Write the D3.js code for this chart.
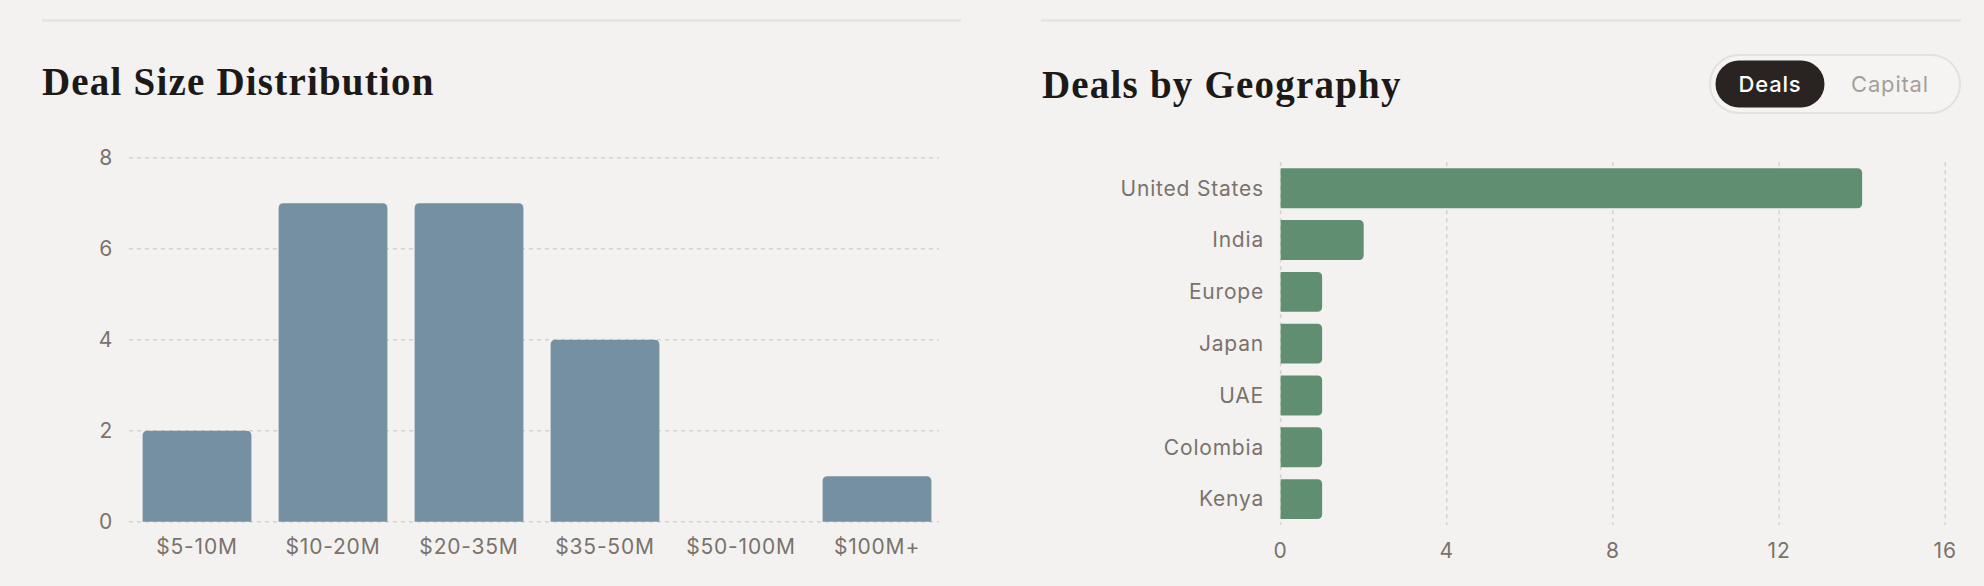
<!DOCTYPE html>
<html>
<head>
<meta charset="utf-8">
<script src="https://cdn.jsdelivr.net/npm/d3@7"></script>
<style>
  html, body { margin: 0; padding: 0; background: #f3f2f0; }
  svg { display: block; }
  .title { font-family: "Liberation Serif", serif; font-weight: bold; fill: #1c1917; letter-spacing: 1.2px; }
  .lbl { font-family: Inter, "Noto Sans", sans-serif; fill: #7a726c; letter-spacing: 0.8px; }
</style>
</head>
<body>
<svg id="chart" width="1984" height="586"></svg>
<script>
// Deal size distribution
const sizeBuckets = ['$5-10M', '$10-20M', '$20-35M', '$35-50M', '$50-100M', '$100M+'];
const sizeCounts = [2, 7, 7, 4, 0, 1];
const sizeTicks = [0, 2, 4, 6, 8];

// Deals by geography
const geoNames = ['United States', 'India', 'Europe', 'Japan', 'UAE', 'Colombia', 'Kenya'];
const geoDeals = [14, 2, 1, 1, 1, 1, 1];
const geoTicks = [0, 4, 8, 12, 16];

const toggleLabels = ['Deals', 'Capital'];

const svg = d3.select('#chart');

// rounded-top bar path (vertical bars)
function topRounded(x, y, w, h, r) {
  if (h <= 0) return '';
  r = Math.min(r, h, w / 2);
  return `M${x},${y + h}V${y + r}Q${x},${y} ${x + r},${y}H${x + w - r}Q${x + w},${y} ${x + w},${y + r}V${y + h}Z`;
}
// rounded-right bar path (horizontal bars)
function rightRounded(x, y, w, h, r) {
  if (w <= 0) return '';
  r = Math.min(r, w, h / 2);
  return `M${x},${y}H${x + w - r}Q${x + w},${y} ${x + w},${y + r}V${y + h - r}Q${x + w},${y + h} ${x + w - r},${y + h}H${x}Z`;
}

/* ---------- left panel ---------- */
const left = svg.append('g');

left.append('line')
  .attr('x1', 42).attr('x2', 961).attr('y1', 20.5).attr('y2', 20.5)
  .attr('stroke', '#e5e3e0').attr('stroke-width', 2.5);

left.append('text')
  .attr('class', 'title')
  .attr('x', 42).attr('y', 95)
  .style('font-size', '39px')
  .text('Deal Size Distribution');

const x1 = d3.scaleBand()
  .domain(sizeBuckets)
  .range([129, 945])
  .paddingInner(0.2)
  .paddingOuter(0.1);

const y1 = d3.scaleLinear()
  .domain([0, 8])
  .range([521.7, 157.7]);

// grid
left.append('g')
  .selectAll('line')
  .data(sizeTicks)
  .enter()
  .append('line')
  .attr('x1', 129).attr('x2', 939)
  .attr('y1', d => y1(d)).attr('y2', d => y1(d))
  .attr('stroke', '#d5d2ce')
  .attr('stroke-width', 1.5)
  .attr('stroke-dasharray', '4 4');

// y tick labels
left.append('g')
  .selectAll('text')
  .data(sizeTicks)
  .enter()
  .append('text')
  .attr('class', 'lbl')
  .attr('x', 113)
  .attr('y', d => y1(d))
  .attr('dy', '0.35em')
  .attr('text-anchor', 'end')
  .style('font-size', '21px')
  .text(d => d);

// bars
left.append('g')
  .selectAll('path')
  .data(sizeBuckets.map((b, i) => ({ b, v: sizeCounts[i] })))
  .enter()
  .append('path')
  .attr('fill', '#7690a3')
  .attr('d', d => topRounded(x1(d.b), y1(d.v), x1.bandwidth(), y1(0) - y1(d.v), 5));

// x labels
left.append('g')
  .selectAll('text')
  .data(sizeBuckets)
  .enter()
  .append('text')
  .attr('class', 'lbl')
  .attr('x', d => x1(d) + x1.bandwidth() / 2)
  .attr('y', 554)
  .attr('text-anchor', 'middle')
  .style('font-size', '21px')
  .text(d => d);

/* ---------- right panel ---------- */
const right = svg.append('g');

right.append('line')
  .attr('x1', 1041).attr('x2', 1961).attr('y1', 20.5).attr('y2', 20.5)
  .attr('stroke', '#e5e3e0').attr('stroke-width', 2.5);

right.append('text')
  .attr('class', 'title')
  .attr('x', 1042).attr('y', 97.5)
  .style('font-size', '39px')
  .text('Deals by Geography');

// toggle
right.append('rect')
  .attr('x', 1710).attr('y', 55).attr('width', 250).attr('height', 58)
  .attr('rx', 29)
  .attr('fill', '#f5f4f2')
  .attr('stroke', '#e3e1de').attr('stroke-width', 2);
right.append('rect')
  .attr('x', 1715.5).attr('y', 60.5).attr('width', 109).attr('height', 47)
  .attr('rx', 23.5)
  .attr('fill', '#292422');
right.append('text')
  .attr('x', 1770).attr('y', 84).attr('dy', '0.35em')
  .attr('text-anchor', 'middle')
  .style('font-family', 'Inter, sans-serif').style('font-size', '22px').style('font-weight', 500)
  .style('letter-spacing', '0.8px')
  .attr('fill', '#ffffff')
  .text(toggleLabels[0]);
right.append('text')
  .attr('x', 1890).attr('y', 84).attr('dy', '0.35em')
  .attr('text-anchor', 'middle')
  .style('font-family', 'Inter, sans-serif').style('font-size', '22px')
  .style('letter-spacing', '0.8px')
  .attr('fill', '#a59f99')
  .text(toggleLabels[1]);

const x2 = d3.scaleLinear()
  .domain([0, 16])
  .range([1280.6, 1945.2]);

const y2 = d3.scaleBand()
  .domain(geoNames)
  .range([162.3, 525])
  .paddingInner(0.23)
  .paddingOuter(0.115);

// vertical grid
right.append('g')
  .selectAll('line')
  .data(geoTicks)
  .enter()
  .append('line')
  .attr('x1', d => x2(d)).attr('x2', d => x2(d))
  .attr('y1', 162.3).attr('y2', 525)
  .attr('stroke', '#d5d2ce')
  .attr('stroke-width', 1.5)
  .attr('stroke-dasharray', '4 4');

// bars
right.append('g')
  .selectAll('path')
  .data(geoNames.map((g, i) => ({ g, v: geoDeals[i] })))
  .enter()
  .append('path')
  .attr('fill', '#5f8f70')
  .attr('d', d => rightRounded(x2(0), y2(d.g), x2(d.v) - x2(0), y2.bandwidth(), 5));

// y labels
right.append('g')
  .selectAll('text')
  .data(geoNames)
  .enter()
  .append('text')
  .attr('class', 'lbl')
  .attr('x', 1264)
  .attr('y', d => y2(d) + y2.bandwidth() / 2)
  .attr('dy', '0.35em')
  .attr('text-anchor', 'end')
  .style('font-size', '21px')
  .text(d => d);

// x tick labels
right.append('g')
  .selectAll('text')
  .data(geoTicks)
  .enter()
  .append('text')
  .attr('class', 'lbl')
  .attr('x', d => x2(d))
  .attr('y', 551)
  .attr('dy', '0.35em')
  .attr('text-anchor', 'middle')
  .style('font-size', '21px')
  .text(d => d);
</script>
</body>
</html>
